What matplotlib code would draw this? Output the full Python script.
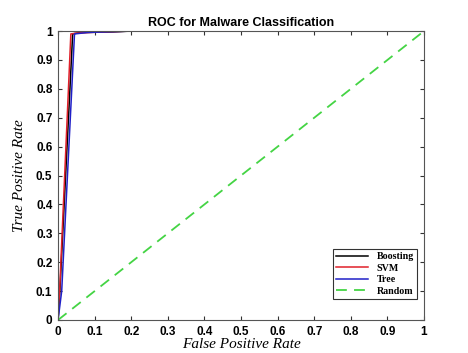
import numpy as np
import matplotlib.pyplot as plt

# Curvas ROC
fpr_boost = [0.0, 0.005, 0.04, 0.06, 0.15, 0.2, 0.5, 1.0]
tpr_boost = [0.0, 0.1, 0.99, 0.995, 0.997, 1.0, 1.0, 1.0]
fpr_svm = [0.0, 0.005, 0.035, 0.05, 0.12, 0.2, 0.5, 1.0]
tpr_svm = [0.0, 0.12, 0.99, 0.993, 0.997, 1.0, 1.0, 1.0]
fpr_tree = [0.0, 0.01, 0.045, 0.08, 0.15, 0.2, 0.5, 1.0]
tpr_tree = [0.0, 0.1, 0.99, 0.995, 0.998, 1.0, 1.0, 1.0]
rand_x = [0, 1]
rand_y = [0, 1]

fig = plt.figure(figsize=(4.68, 3.53), dpi=100)
ax = fig.add_axes([0.124, 0.0935, 0.782, 0.8185])

ax.plot(fpr_boost, tpr_boost, color='black', lw=1.1, label='Boosting')
ax.plot(fpr_svm, tpr_svm, color='#e0202a', lw=1.1, label='SVM')
ax.plot(fpr_tree, tpr_tree, color='#2020c8', lw=1.1, label='Tree')
ax.plot(rand_x, rand_y, '--', color='#44d444', lw=1.3, dashes=(6, 4), label='Random')

ax.set_xlim(0, 1)
ax.set_ylim(0, 1)
ticks = np.arange(0, 1.01, 0.1)
labels = ['0', '0.1', '0.2', '0.3', '0.4', '0.5', '0.6', '0.7', '0.8', '0.9', '1']
ax.set_xticks(ticks)
ax.set_xticklabels(labels)
ax.set_yticks(ticks)
ax.set_yticklabels(labels)
ax.tick_params(direction='in', top=True, right=True, length=3, width=0.8,
               labelsize=8.5, colors='#333333', pad=4)
for t in ax.get_xticklabels() + ax.get_yticklabels():
    t.set_fontfamily('Liberation Sans')
    t.set_fontweight('bold')
    t.set_color('black')
for s in ax.spines.values():
    s.set_color('#555555')
    s.set_linewidth(0.8)

ax.set_xlabel('False Positive Rate', fontfamily='Liberation Serif', fontstyle='italic',
              fontsize=11, labelpad=0)
ax.set_ylabel('True Positive Rate', fontfamily='Liberation Serif', fontstyle='italic',
              fontsize=11, labelpad=7)
ax.set_title('ROC for Malware Classification', fontfamily='Liberation Sans',
             fontweight='bold', fontsize=9, pad=4)

leg = ax.legend(loc='lower right', fancybox=False, edgecolor='black',
                prop={'family': 'Liberation Serif', 'weight': 'bold', 'size': 7.2},
                handlelength=3.2, borderpad=0.35, labelspacing=0.25,
                bbox_to_anchor=(0.995, 0.055))
leg.get_frame().set_linewidth(0.8)

plt.savefig('out.png', dpi=100)
